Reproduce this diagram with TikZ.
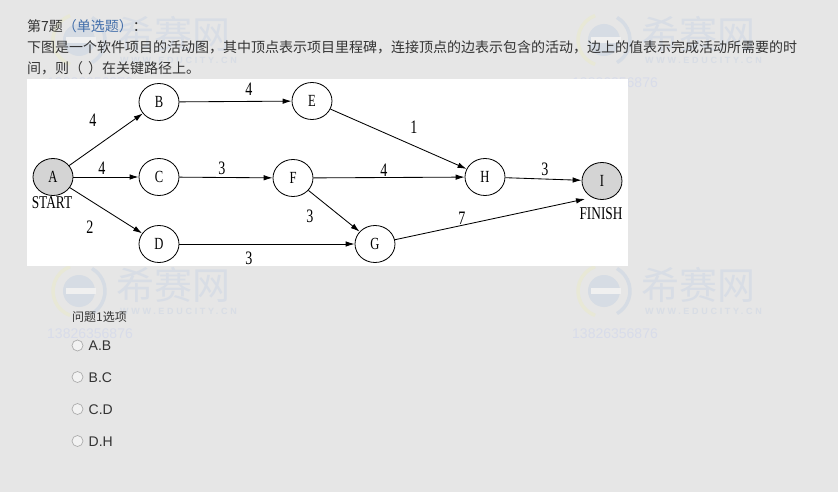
\documentclass[tikz,border=0pt]{standalone}
\usepackage{fontspec}
\usetikzlibrary{arrows.meta,shapes.geometric}
\newfontfamily\cjk{Noto Sans CJK SC}
\newfontfamily\lblserif[FakeStretch=0.74]{Liberation Serif}
\newfontfamily\wmsans[LetterSpace=30]{Liberation Sans}
\setsansfont{Liberation Sans}
\definecolor{pagebg}{RGB}{230,230,230}
\definecolor{bodytext}{RGB}{51,51,51}
\definecolor{typeblue}{RGB}{66,110,170}
\definecolor{milestone}{RGB}{212,212,212}
\definecolor{wmblue}{RGB}{214,220,228}
\definecolor{wmyellow}{RGB}{232,232,214}
\definecolor{wmtext}{RGB}{216,221,229}
\definecolor{wmphone}{RGB}{216,220,234}
\tikzset{
  vertex/.style={ellipse,draw=black,line width=0.8pt,fill=white,inner sep=0pt,
    minimum width=40pt,minimum height=37pt,font=\lblserif\fontsize{17}{17}\selectfont},
  endvertex/.style={vertex,fill=milestone},
  act/.style={line width=0.85pt,-{Latex[length=9pt,width=5.5pt]}},
  weight/.style={font=\lblserif\fontsize{19}{19}\selectfont,inner sep=0pt},
  tag/.style={font=\lblserif\fontsize{18}{18}\selectfont,inner sep=0pt},
  para/.style={anchor=base west,inner sep=0pt,text=bodytext,font=\cjk\fontsize{14}{14}\selectfont},
  radio/.style={circle,draw=black!32,fill=black!5,line width=0.7pt,minimum size=11pt,inner sep=0pt},
  choice/.style={anchor=west,inner sep=0pt,text=bodytext,font=\sffamily\fontsize{14}{14}\selectfont},
  wmark/.pic={
    \draw[wmyellow,line width=3.5pt] (0,0) ++(110:26) arc[start angle=110,end angle=250,radius=26];
    \draw[wmblue,line width=3.5pt] (0,0) ++(-60:26) arc[start angle=-60,end angle=60,radius=26];
    \fill[wmblue] (0,0) circle[radius=16];
    \fill[pagebg!60!white] (-13,-3) rectangle (17,3);
    \node[text=wmtext,font=\cjk\fontsize{38}{38}\selectfont,anchor=west,inner sep=0pt] at (37,-6) {希赛网};
    \node[text=wmtext,font=\wmsans\bfseries\fontsize{9}{9}\selectfont,anchor=west,inner sep=0pt] at (41,20) {WWW.EDUCITY.CN};
    \node[text=wmphone,font=\sffamily\fontsize{14}{14}\selectfont,anchor=west,inner sep=0pt] at (-32,43) {13826356876};
  }
}
\begin{document}
\begin{tikzpicture}[x=1pt,y=-1pt]
  % page
  \fill[pagebg] (0,0) rectangle (838,492);
  \useasboundingbox (0,0) rectangle (838,492);

  % faint site watermarks
  \pic at (79,40) {wmark};
  \pic at (604,40) {wmark};
  \pic at (79,291) {wmark};
  \pic at (604,291) {wmark};

  % question text
  \node[para] (qno) at (27,31.5) {第7题\textcolor{typeblue}{（单选题）}：};
  \node[para] (q1) at (27,53) {下图是一个软件项目的活动图，其中顶点表示项目里程碑，连接顶点的边表示包含的活动，边上的值表示完成活动所需要的时};
  \node[para] (q2) at (27,74) {间，则（\hspace{5pt}）在关键路径上。};

  % activity diagram panel
  \fill[white] (27,79) rectangle (628,266);

  \node[endvertex] (A) at (53,177) {A};
  \node[vertex] (B) at (159,102) {B};
  \node[vertex] (C) at (159,177) {C};
  \node[vertex] (D) at (159,244) {D};
  \node[vertex] (E) at (312,101) {E};
  \node[vertex] (F) at (293,178) {F};
  \node[vertex] (G) at (375,244) {G};
  \node[vertex] (H) at (485,177) {H};
  \node[endvertex] (I) at (602,181) {I};
  \coordinate (Iin) at (585,199);

  \node[tag] (start) at (52,203) {START};
  \node[tag] (finish) at (601,214) {FINISH};

  \draw[act] (A) -- (B);
  \draw[act] (A) -- (C);
  \draw[act] (A) -- (D);
  \draw[act] (B) -- (E);
  \draw[act] (C) -- (F);
  \draw[act] (D) -- (G);
  \draw[act] (E) -- (H);
  \draw[act] (F) -- (H);
  \draw[act] (F) -- (G);
  \draw[act] (H) -- (I);
  \draw[act] (G) -- (Iin);

  \node[weight] (wab) at (93,120) {4};
  \node[weight] (wac) at (102,168) {4};
  \node[weight] (wad) at (90,227) {2};
  \node[weight] (wbe) at (249,89) {4};
  \node[weight] (wcf) at (222,168) {3};
  \node[weight] (wfg) at (310,216) {3};
  \node[weight] (wdg) at (249,258) {3};
  \node[weight] (weh) at (414,127) {1};
  \node[weight] (wfh) at (384,170) {4};
  \node[weight] (whi) at (545,169) {3};
  \node[weight] (wgi) at (462,218) {7};

  % answer options
  \node[anchor=west,inner sep=0pt,text=bodytext,font=\cjk\fontsize{12}{12}\selectfont] (opts) at (72,317) {问题1选项};
  \node[radio] (ra) at (77.5,345.5) {};
  \node[radio] (rb) at (77.5,377) {};
  \node[radio] (rc) at (77.5,409) {};
  \node[radio] (rd) at (77.5,441) {};
  \node[choice] (ca) at (88.5,346) {A.B};
  \node[choice] (cb) at (88.5,377.5) {B.C};
  \node[choice] (cc) at (88.5,409.5) {C.D};
  \node[choice] (cd) at (88.5,441.5) {D.H};
\end{tikzpicture}
\end{document}
